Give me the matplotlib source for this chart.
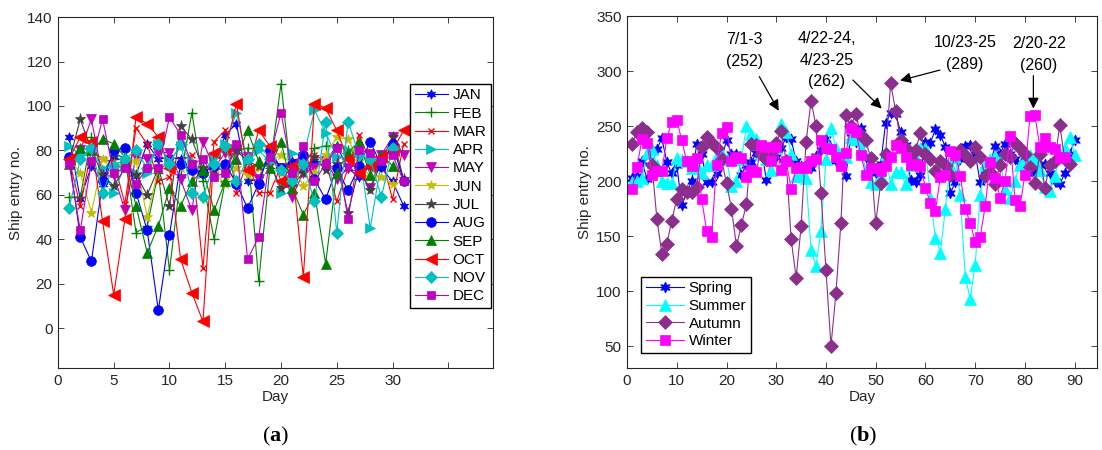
import matplotlib.pyplot as plt
import numpy as np

plt.rcParams['font.family'] = ['Liberation Sans', 'DejaVu Sans']
plt.rcParams['mathtext.fontset'] = 'custom'
plt.rcParams['mathtext.rm'] = 'Liberation Serif'
plt.rcParams['mathtext.bf'] = 'Liberation Serif:bold'

# ---- daily entries per month (panel a) ----
months = ["JAN", "FEB", "MAR", "APR", "MAY", "JUN",
          "JUL", "AUG", "SEP", "OCT", "NOV", "DEC"]
jan = [86, 58, 73, 65, 77, 75, 69, 83, 76, 77, 76, 71, 70, 73, 87, 92,
       66, 67, 80, 71, 75, 72, 75, 75, 82, 72, 68, 73, 72, 66, 55]
feb = [59, 59, 86, 70, 78, 77, 43, 46, 70, 26, 68, 97, 66, 40, 66, 80,
       81, 21, 72, 110, 64, 73, 81, 82, 82, 80, 78, 75]
mar = [76, 55, 80, 76, 75, 56, 90, 83, 66, 68, 75, 78, 27, 84, 89, 61,
       75, 61, 61, 73, 70, 70, 78, 75, 57, 72, 87, 75, 77, 58, 83]
apr = [82, 78, 80, 72, 61, 73, 70, 70, 83, 75, 82, 75, 70, 77, 83, 97,
       75, 80, 75, 61, 79, 77, 98, 88, 77, 80, 80, 45, 75, 80]
may = [74, 80, 94, 68, 69, 53, 77, 76, 79, 79, 67, 53, 84, 72, 79, 80,
       77, 67, 78, 72, 59, 70, 72, 75, 67, 72, 70, 63, 78, 86, 78]
jun = [76, 70, 52, 76, 74, 73, 75, 50, 72, 74, 72, 74, 70, 70, 65, 72,
       69, 72, 75, 78, 74, 64, 70, 78, 86, 85, 75, 68, 68, 65]
jul = [75, 94, 80, 69, 64, 72, 69, 60, 72, 55, 91, 85, 72, 71, 72, 80,
       75, 73, 74, 63, 64, 70, 77, 71, 74, 52, 72, 62, 75, 86, 67]
aug = [77, 41, 30, 66, 80, 81, 61, 44, 8, 42, 74, 71, 70, 73, 74, 65,
       54, 65, 80, 72, 74, 78, 67, 58, 72, 62, 73, 84, 73, 83, 66]
sep = [74, 81, 80, 85, 83, 77, 55, 34, 46, 63, 55, 66, 71, 53, 66, 76,
       89, 75, 72, 84, 63, 51, 61, 29, 70, 79, 84, 69, 78, 73]
oct_ = [76, 86, 84, 48, 15, 49, 95, 92, 86, 72, 31, 16, 3, 79, 80, 101,
        71, 89, 82, 66, 73, 23, 101, 99, 89, 76, 70, 73, 77, 80, 89]
nov = [54, 76, 81, 61, 73, 76, 80, 72, 83, 74, 83, 61, 59, 74, 82, 66,
       76, 83, 76, 71, 66, 74, 57, 93, 43, 93, 78, 76, 59, 81]
dec = [74, 44, 75, 94, 70, 72, 65, 72, 72, 95, 87, 74, 76, 68, 70, 83,
       31, 41, 77, 97, 70, 82, 66, 74, 81, 49, 80, 79, 75, 78, 66]
month_data = [jan, feb, mar, apr, may, jun, jul, aug, sep, oct_, nov, dec]

# ---- 3-day totals per season (panel b) ----
seasons = ["Spring", "Summer", "Autumn", "Winter"]
spring = [203, 205, 218, 202, 215, 229, 239, 217, 207, 215, 178, 190, 200,
          234, 225, 199, 199, 207, 220, 237, 225, 225, 206, 215, 217, 226,
          230, 201, 218, 222, 230, 240, 238, 218, 214, 215, 212, 223, 228,
          238, 230, 218, 215, 205, 240, 236, 248, 222, 212, 207, 216, 253,
          262, 261, 245, 233, 201, 199, 206, 236, 235, 247, 242, 231, 189,
          199, 220, 232, 233, 225, 199, 210, 215, 232, 225, 234, 225, 220,
          215, 218, 210, 207, 215, 216, 207, 200, 197, 207, 225, 237]
summer = [199, 200, 203, 226, 229, 215, 200, 198, 198, 221, 219, 218, 212,
          215, 207, 215, 215, 223, 225, 220, 196, 200, 220, 250, 243, 238,
          225, 220, 210, 230, 252, 245, 225, 205, 205, 203, 137, 123, 155,
          220, 248, 230, 225, 222, 240, 238, 230, 210, 199, 197, 205, 225,
          197, 208, 208, 197, 215, 222, 230, 230, 185, 148, 135, 175, 215,
          222, 187, 113, 93, 124, 187, 215, 220, 223, 218, 193, 185, 200,
          215, 220, 224, 220, 210, 195, 191, 205, 222, 230, 240, 224]
autumn = [234, 245, 248, 245, 215, 166, 134, 143, 164, 184, 193, 190, 190,
          195, 231, 240, 235, 230, 220, 198, 175, 141, 160, 179, 234, 233,
          225, 220, 225, 235, 246, 218, 147, 112, 159, 236, 273, 250, 189,
          119, 50, 98, 162, 260, 250, 261, 242, 237, 221, 162, 198, 225,
          289, 264, 237, 230, 220, 228, 244, 225, 220, 209, 218, 215, 206,
          225, 228, 224, 218, 231, 222, 205, 208, 197, 215, 225, 222, 235,
          230, 225, 213, 198, 225, 194, 215, 218, 251, 220, 216]
winter = [193, 213, 238, 235, 206, 209, 209, 239, 254, 256, 237, 218, 214,
          221, 184, 155, 149, 215, 244, 249, 218, 222, 221, 204, 210, 208,
          233, 231, 218, 231, 210, 218, 193, 212, 213, 212, 218, 220, 237,
          230, 229, 222, 214, 226, 248, 245, 224, 206, 212, 212, 209, 214,
          222, 233, 230, 222, 215, 216, 214, 194, 180, 173, 204, 206, 227,
          224, 205, 175, 162, 145, 149, 177, 217, 203, 185, 200, 241, 183,
          177, 206, 259, 260, 231, 239, 231, 229, 221, 222]
season_data = [spring, summer, autumn, winter]

# peak windows called out on panel b: (label, text x, text y)
peak_labels = [("7/1-3\n(252)", 23.6, 319),
               ("4/22-24,\n4/23-25\n(262)", 40.2, 310),
               ("10/23-25\n(289)", 67.9, 316),
               ("2/20-22\n(260)", 82.8, 315)]
# arrow tails and heads, in data units
peak_arrows = [((26.6, 295), (30.5, 264)),
               ((45.4, 292), (51.2, 266)),
               ((62.9, 301), (54.9, 291.5)),
               ((81.7, 296), (81.7, 266))]

# six-pointed star, like MATLAB's hexagram
hexagram = (6, 1, 0)

month_styles = [
    ("b", hexagram, 7), ("g", "+", 7), ("r", "x", 5), ("c", ">", 7),
    ("m", "v", 7), ("y", "*", 7), ((0.25, 0.25, 0.25), "*", 8),
    ("b", "o", 7), ("g", "^", 7), ("r", "<", 8), ("c", "D", 6),
    ("m", "s", 6)]
season_styles = [
    ((0, 0, 1), hexagram, 8), ((0, 1, 1), "^", 8.5),
    ((0.55, 0.18, 0.55), "D", 7), ((1, 0, 1), "s", 6.5)]

TICK_GRAY = (0.15, 0.15, 0.15)
FS = 11

fig = plt.figure(figsize=(11.02, 4.5), dpi=100)
ax1 = fig.add_axes([0.0526, 0.182, 0.3947, 0.78])
ax2 = fig.add_axes([0.569, 0.182, 0.4265, 0.782])

for name, vals, (col, mk, ms) in zip(months, month_data, month_styles):
    days = np.arange(1, len(vals) + 1)
    ax1.plot(days, vals, color=col, marker=mk, markersize=ms, lw=0.8,
             markeredgewidth=1.0 if mk in ("+", "x") else 0.5,
             label=name)

ax1.set_xlim(0, 39)
ax1.set_ylim(-18, 140)
ax1.set_xticks(np.arange(0, 40, 5))
ax1.set_xticklabels(["0", "5", "10", "15", "20", "25", "30", ""])
ax1.set_yticks(np.arange(0, 141, 20))
ax1.set_xlabel("Day", fontsize=FS, color=TICK_GRAY, labelpad=2)
ax1.set_ylabel("Ship entry no.", fontsize=FS, color=TICK_GRAY, labelpad=3)
ax1.legend(loc="upper right", bbox_to_anchor=(0.996, 0.81), fontsize=FS,
           handlelength=2.2, labelspacing=0.28, borderpad=0.3,
           borderaxespad=0, handletextpad=0.3, fancybox=False,
           edgecolor="k", framealpha=1)

for name, vals, (col, mk, ms) in zip(seasons, season_data, season_styles):
    days = np.arange(1, len(vals) + 1)
    ax2.plot(days, vals, color=col, marker=mk, markersize=ms, lw=0.8,
             markeredgewidth=0.5, label=name)

for text, tx, ty in peak_labels:
    ax2.text(tx, ty, text, ha="center", va="center", fontsize=11.5,
             linespacing=1.55)

for (x0, y0), (x1, y1) in peak_arrows:
    ax2.annotate("", xy=(x1, y1), xytext=(x0, y0),
                 arrowprops=dict(arrowstyle="-|>", color="k", lw=0.9,
                                 mutation_scale=16, shrinkA=0, shrinkB=0))

ax2.set_xlim(0, 94.5)
ax2.set_ylim(30, 350)
ax2.set_xticks(np.arange(0, 91, 10))
ax2.set_yticks(np.arange(50, 351, 50))
ax2.set_xlabel("Day", fontsize=FS, color=TICK_GRAY, labelpad=2)
ax2.set_ylabel("Ship entry no.", fontsize=FS, color=TICK_GRAY, labelpad=3)
ax2.legend(loc="lower left", bbox_to_anchor=(0.03, 0.043), fontsize=FS,
           handlelength=2.5, labelspacing=0.24, borderpad=0.3,
           borderaxespad=0, handletextpad=0.3, fancybox=False,
           edgecolor="k", framealpha=1)

for ax in (ax1, ax2):
    ax.tick_params(direction="in", top=True, right=True, length=4,
                   width=0.6, labelsize=FS, colors=TICK_GRAY, pad=4)
    for sp in ax.spines.values():
        sp.set_linewidth(0.8)
        sp.set_color(TICK_GRAY)

fig.text(0.25, 0.02, r"$(\mathbf{a})$", ha="center", fontsize=16)
fig.text(0.783, 0.02, r"$(\mathbf{b})$", ha="center", fontsize=16)

fig.savefig("out.png", dpi=100)
